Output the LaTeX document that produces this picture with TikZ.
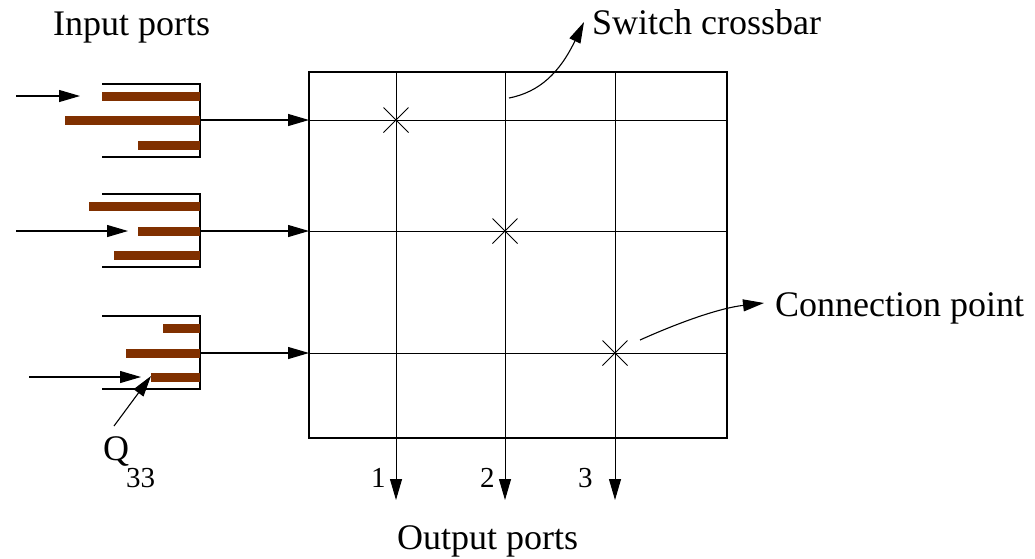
\documentclass[tikz,border=0pt]{standalone}
\usepackage{fontspec}
\setmainfont{Liberation Serif}
\usetikzlibrary{arrows.meta,shapes.misc}
\definecolor{qbrown}{RGB}{128,48,0}
\begin{document}
\begin{tikzpicture}[x=1pt,y=-1pt,
  thinline/.style={line width=1.1pt},
  arr/.style={thinline,-{Triangle[length=21pt,width=12pt]}},
  qline/.style={line width=1.2pt},
  cross/.style={cross out,draw,line width=1pt,minimum size=24pt,inner sep=0pt},
  big/.style={font=\fontsize{36}{43}\selectfont,inner sep=0pt,anchor=base west},
  small/.style={font=\fontsize{29}{34}\selectfont,inner sep=0pt,anchor=base west}]
\useasboundingbox (0,0) rectangle (1035,558);
% crossbar box
\coordinate (bl) at (309,72);
\coordinate (br) at (727,438);
\draw[line width=2.6pt] (bl) rectangle (br);
% grid coordinates
\coordinate (c1t) at (396,72);  \coordinate (c1b) at (396,500);
\coordinate (c2t) at (505,72);  \coordinate (c2b) at (505,500);
\coordinate (c3t) at (615,72);  \coordinate (c3b) at (615,500);
\coordinate (r1l) at (309,120); \coordinate (r1r) at (727,120);
\coordinate (r2l) at (309,231); \coordinate (r2r) at (727,231);
\coordinate (r3l) at (309,353); \coordinate (r3r) at (727,353);
\draw[line width=1pt] (r1l) -- (r1r) (r2l) -- (r2r) (r3l) -- (r3r);
\draw[arr,line width=1pt] (c1t) -- (c1b);
\draw[arr,line width=1pt] (c2t) -- (c2b);
\draw[arr,line width=1pt] (c3t) -- (c3b);
% crosses
\node[cross] (x1) at (396,120) {};
\node[cross] (x2) at (505,231) {};
\node[cross] (x3) at (615,353) {};
% queue 1
\draw[qline] (102,84) -- (200,84) -- (200,157) -- (102,157);
\fill[qbrown] (102,91.5) rectangle (200,100.5);
\fill[qbrown] (65,115.5) rectangle (200,124.5);
\fill[qbrown] (138,140.5) rectangle (200,149.5);
\coordinate (q1o) at (200,120);
\coordinate (i1s) at (16,96); \coordinate (i1e) at (80,96);
\draw[arr] (i1s) -- (i1e);
\draw[arr] (q1o) -- (r1l);
% queue 2
\draw[qline] (102,194) -- (200,194) -- (200,267) -- (102,267);
\fill[qbrown] (89,201.5) rectangle (200,210.5);
\fill[qbrown] (138,226.5) rectangle (200,235.5);
\fill[qbrown] (114,250.5) rectangle (200,259.5);
\coordinate (q2o) at (200,231);
\coordinate (i2s) at (16,231); \coordinate (i2e) at (128,231);
\draw[arr] (i2s) -- (i2e);
\draw[arr] (q2o) -- (r2l);
% queue 3
\draw[qline] (102,316) -- (200,316) -- (200,389) -- (102,389);
\fill[qbrown] (163,323.5) rectangle (200,332.5);
\fill[qbrown] (126,348.5) rectangle (200,357.5);
\fill[qbrown] (151,372.5) rectangle (200,381.5);
\coordinate (q3o) at (200,353);
\coordinate (i3s) at (29,377); \coordinate (i3e) at (141,377);
\draw[arr] (i3s) -- (i3e);
\draw[arr] (q3o) -- (r3l);
% labels
\node[big] (inp) at (53,35) {Input ports};
\node[big] (sw) at (592,34) {Switch crossbar};
\node[big] (cp) at (775,316) {Connection point};
\node[big] (outp) at (397,549) {Output ports};
\node[big] (q) at (103,460) {Q};
\node[small] (q33) at (126,487) {33};
\node[small] (n1) at (371,487) {1};
\node[small] (n2) at (480,487) {2};
\node[small] (n3) at (578,487) {3};
% pointers
\coordinate (qs) at (114,426); \coordinate (qe) at (151,376);
\draw[arr] (qs) -- (qe);
\coordinate (sws) at (509,98); \coordinate (swe) at (584,22);
\draw[arr] (sws) .. controls (540,92) and (560,72) .. (swe);
\coordinate (cps) at (640,340); \coordinate (cpe) at (764,303);
\draw[arr] (cps) .. controls (680,322) and (720,308) .. (cpe);
\end{tikzpicture}
\end{document}
